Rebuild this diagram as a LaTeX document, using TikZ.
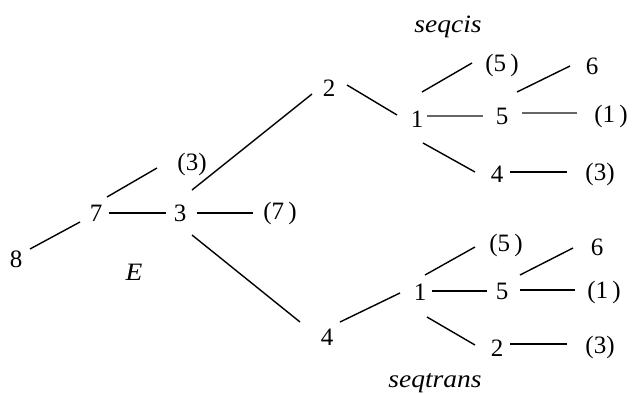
\documentclass[tikz,border=0pt]{standalone}
\usepackage{fontspec}
\setmainfont{Liberation Serif}
\usetikzlibrary{calc}
\begin{document}
\begin{tikzpicture}[x=1pt,y=-1pt,
  lbl/.style={inner sep=0pt,font=\fontsize{25}{27}\selectfont},
  ital/.style={inner sep=0pt,xscale=1.1,font=\fontsize{25}{27}\selectfont\itshape},
  edge/.style={line width=1.4pt,black},
  gedge/.style={line width=1.4pt,black!60}]
\useasboundingbox (0,0) rectangle (633,394);
% nodes
\node[lbl] (n8) at (16,259) {8};
\node[lbl] (n7) at (96,213) {7};
\node[lbl] (n3) at (180,213) {3};
\node[lbl] (p3a) at (192,164) {(3)};
\node[lbl] (p7) at (280,213) {(7\,)};
\node[ital] (E) at (134,272) {E};
\node[lbl] (t2) at (329,88) {2};
\node[lbl] (t1) at (417,119) {1};
\node[lbl] (tp5) at (502,65) {(5\,)};
\node[lbl] (t6) at (592,66) {6};
\node[lbl] (t5) at (502,116) {5};
\node[lbl] (tp1) at (611,116) {(1\,)};
\node[lbl] (t4) at (497,174) {4};
\node[lbl] (tp3) at (600,174) {(3)};
\node[ital] (seqcis) at (448,27) {seqcis};
\node[lbl] (b4) at (327,337) {4};
\node[lbl] (b1) at (420,292) {1};
\node[lbl] (bp5) at (506,245) {(5\,)};
\node[lbl] (b6) at (597,247) {6};
\node[lbl] (b5) at (502,291) {5};
\node[lbl] (bp1) at (604,292) {(1\,)};
\node[lbl] (b2) at (497,348) {2};
\node[lbl] (bp3) at (600,347) {(3)};
\node[ital] (seqtrans) at (435,383) {seqtrans};
% connectors
\draw[edge] ($(n8)+(14,-10)$) -- ($(n7)+(-16,9)$);
\draw[edge] ($(n7)+(11,-16)$) -- ($(p3a)+(-35,4)$);
\draw[edge] ($(n7)+(13,0)$) -- ($(n3)+(-14,0)$);
\draw[edge] ($(n3)+(17,0)$) -- ($(p7)+(-27,0)$);
\draw[edge] ($(n3)+(12,-23)$) -- ($(t2)+(-17,6)$);
\draw[edge] ($(n3)+(12,22)$) -- ($(b4)+(-27,-15)$);
\draw[edge] ($(t2)+(18,-3)$) -- ($(t1)+(-20,-4)$);
\draw[edge] ($(t1)+(5,-27)$) -- ($(tp5)+(-30,-2)$);
\draw[gedge] ($(t1)+(10,-3)$) -- ($(t5)+(-19,0)$);
\draw[edge] ($(t5)+(15,-24)$) -- ($(t6)+(-22,0)$);
\draw[gedge] ($(t5)+(20,-3)$) -- ($(tp1)+(-34,-3)$);
\draw[edge] ($(t1)+(6,24)$) -- ($(t4)+(-22,-2)$);
\draw[edge] ($(t4)+(13,-2)$) -- ($(tp3)+(-33,-2)$);
\draw[edge] ($(b4)+(13,-15)$) -- ($(b1)+(-20,1)$);
\draw[edge] ($(b1)+(5,-17)$) -- ($(bp5)+(-31,2)$);
\draw[edge] ($(b1)+(12,-1)$) -- ($(b5)+(-15,0)$);
\draw[edge] ($(b5)+(18,-16)$) -- ($(b6)+(-24,1)$);
\draw[edge] ($(b5)+(18,-1)$) -- ($(bp1)+(-29,-2)$);
\draw[edge] ($(b1)+(7,25)$) -- ($(b2)+(-22,-3)$);
\draw[edge] ($(b2)+(13,-4)$) -- ($(bp3)+(-33,-3)$);
\end{tikzpicture}
\end{document}
